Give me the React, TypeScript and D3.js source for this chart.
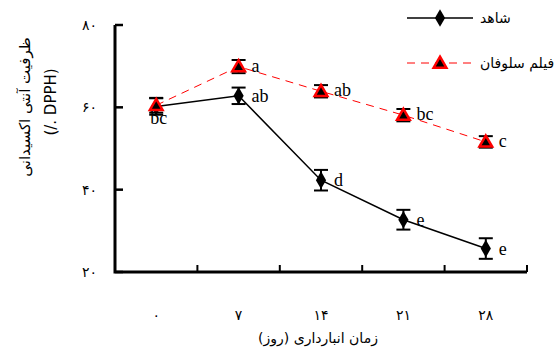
import React from 'react'
import * as d3 from 'd3'

// روز انبارداری
const days = ['۰', '۷', '۱۴', '۲۱', '۲۸']
const yTicks = [20, 40, 60, 80]
const yTickLabels = ['۲۰', '۴۰', '۶۰', '۸۰']

// شاهد
const control = [60.2, 62.8, 42.3, 32.7, 25.7]
const controlErr = [2, 2, 2.5, 2.4, 2.5]
const controlLetters = ['', 'ab', 'd', 'e', 'e']

// فیلم سلوفان
const cello = [60.5, 69.9, 63.9, 58.1, 51.6]
const celloErr = [1.8, 1.6, 1.5, 1.5, 1.4]
const celloLetters = ['bc', 'a', 'ab', 'bc', 'c']

const persianFont = "'DejaVu Sans', sans-serif"

const App = () => {
  const x = d3.scaleBand().domain(days).range([115, 527])
  const y = d3.scaleLinear().domain([20, 80]).range([272, 25])
  const cx = (d: string) => (x(d) as number) + x.bandwidth() / 2

  const line = d3
    .line<number>()
    .x((_, i) => cx(days[i]))
    .y((v) => y(v))

  const diamond = d3.symbol().type(d3.symbolDiamond).size(90)()
  const triangle = d3.symbol().type(d3.symbolTriangle).size(70)()

  const errBars = (vals: number[], errs: number[], key: string) =>
    vals.map((v, i) => {
      const px = cx(days[i])
      return (
        <g key={key + i} stroke='#000' strokeWidth={2}>
          <line x1={px} x2={px} y1={y(v + errs[i])} y2={y(v - errs[i])} />
          <line x1={px - 7} x2={px + 7} y1={y(v + errs[i])} y2={y(v + errs[i])} />
          <line x1={px - 7} x2={px + 7} y1={y(v - errs[i])} y2={y(v - errs[i])} />
        </g>
      )
    })

  return (
    <svg width={554} height={349} style={{ position: 'absolute', left: 0, top: 0 }}>
      <rect width={554} height={349} fill='#fff' />

      {/* axes */}
      <path d='M115,25 V272 H527' fill='none' stroke='#000' strokeWidth={3} />
      {yTicks.map((t) => (
        <line key={t} x1={115} x2={123} y1={y(t)} y2={y(t)} stroke='#000' strokeWidth={2.5} />
      ))}
      {days.map((d) => (
        <line
          key={d}
          x1={(x(d) as number) + x.bandwidth()}
          x2={(x(d) as number) + x.bandwidth()}
          y1={272}
          y2={265}
          stroke='#000'
          strokeWidth={2}
        />
      ))}
      {yTicks.map((t, i) => (
        <text key={t} x={97} y={y(t) + 5} textAnchor='end' fontSize={14} fontFamily={persianFont}>
          {yTickLabels[i]}
        </text>
      ))}
      {days.map((d) => (
        <text key={d} x={cx(d)} y={320} textAnchor='middle' fontSize={14} fontFamily={persianFont}>
          {d}
        </text>
      ))}
      <text x={318} y={343} textAnchor='middle' fontSize={14} fontFamily={persianFont}>
        زمان انبارداری (روز)
      </text>
      <g transform='translate(30,107) rotate(-90)'>
        <text textAnchor='middle' fontSize={15} fontFamily={persianFont}>
          ظرفیت آنتی اکسیدانی
        </text>
      </g>
      <g transform='translate(56,102) rotate(-90)'>
        <text textAnchor='middle' fontSize={15} fontFamily={persianFont}>
          (/. DPPH)
        </text>
      </g>

      {/* control series */}
      <path d={line(control) || ''} fill='none' stroke='#000' strokeWidth={1.5} />
      {errBars(control, controlErr, 'c')}
      {control.map((v, i) => (
        <path key={'cm' + i} d={diamond || ''} transform={`translate(${cx(days[i])},${y(v)})`} fill='#000' />
      ))}

      {/* cellophane series */}
      <path d={line(cello) || ''} fill='none' stroke='#ff0000' strokeWidth={1} strokeDasharray='8,6' />
      {errBars(cello, celloErr, 'f')}
      {cello.map((v, i) => (
        <path
          key={'fm' + i}
          d={triangle || ''}
          transform={`translate(${cx(days[i])},${y(v) + 1})`}
          fill='#000'
          stroke='#ff0000'
          strokeWidth={2.5}
        />
      ))}

      {/* letters */}
      {control.map((v, i) =>
        controlLetters[i] ? (
          <text key={'cl' + i} x={cx(days[i]) + 13} y={y(v) + 6} fontSize={18} fontFamily="'Liberation Serif', serif">
            {controlLetters[i]}
          </text>
        ) : null,
      )}
      {cello.map((v, i) => (
        <text
          key={'fl' + i}
          x={i === 0 ? cx(days[i]) - 6 : cx(days[i]) + 13}
          y={i === 0 ? y(v) + 19 : y(v) + 5}
          fontSize={18}
          fontFamily="'Liberation Serif', serif"
        >
          {celloLetters[i]}
        </text>
      ))}

      {/* legend */}
      <line x1={407} x2={473} y1={18} y2={18} stroke='#000' strokeWidth={1.5} />
      <path d={diamond || ''} transform='translate(440,18)' fill='#000' />
      <text x={480} y={23} fontSize={14} fontFamily={persianFont}>
        شاهد
      </text>
      <line x1={407} x2={473} y1={63} y2={63} stroke='#ff0000' strokeWidth={1} strokeDasharray='8,6' />
      <path d={triangle || ''} transform='translate(440,64)' fill='#000' stroke='#ff0000' strokeWidth={2.5} />
      <text x={480} y={68} fontSize={14} fontFamily={persianFont}>
        فیلم سلوفان
      </text>
    </svg>
  )
}

export default App
